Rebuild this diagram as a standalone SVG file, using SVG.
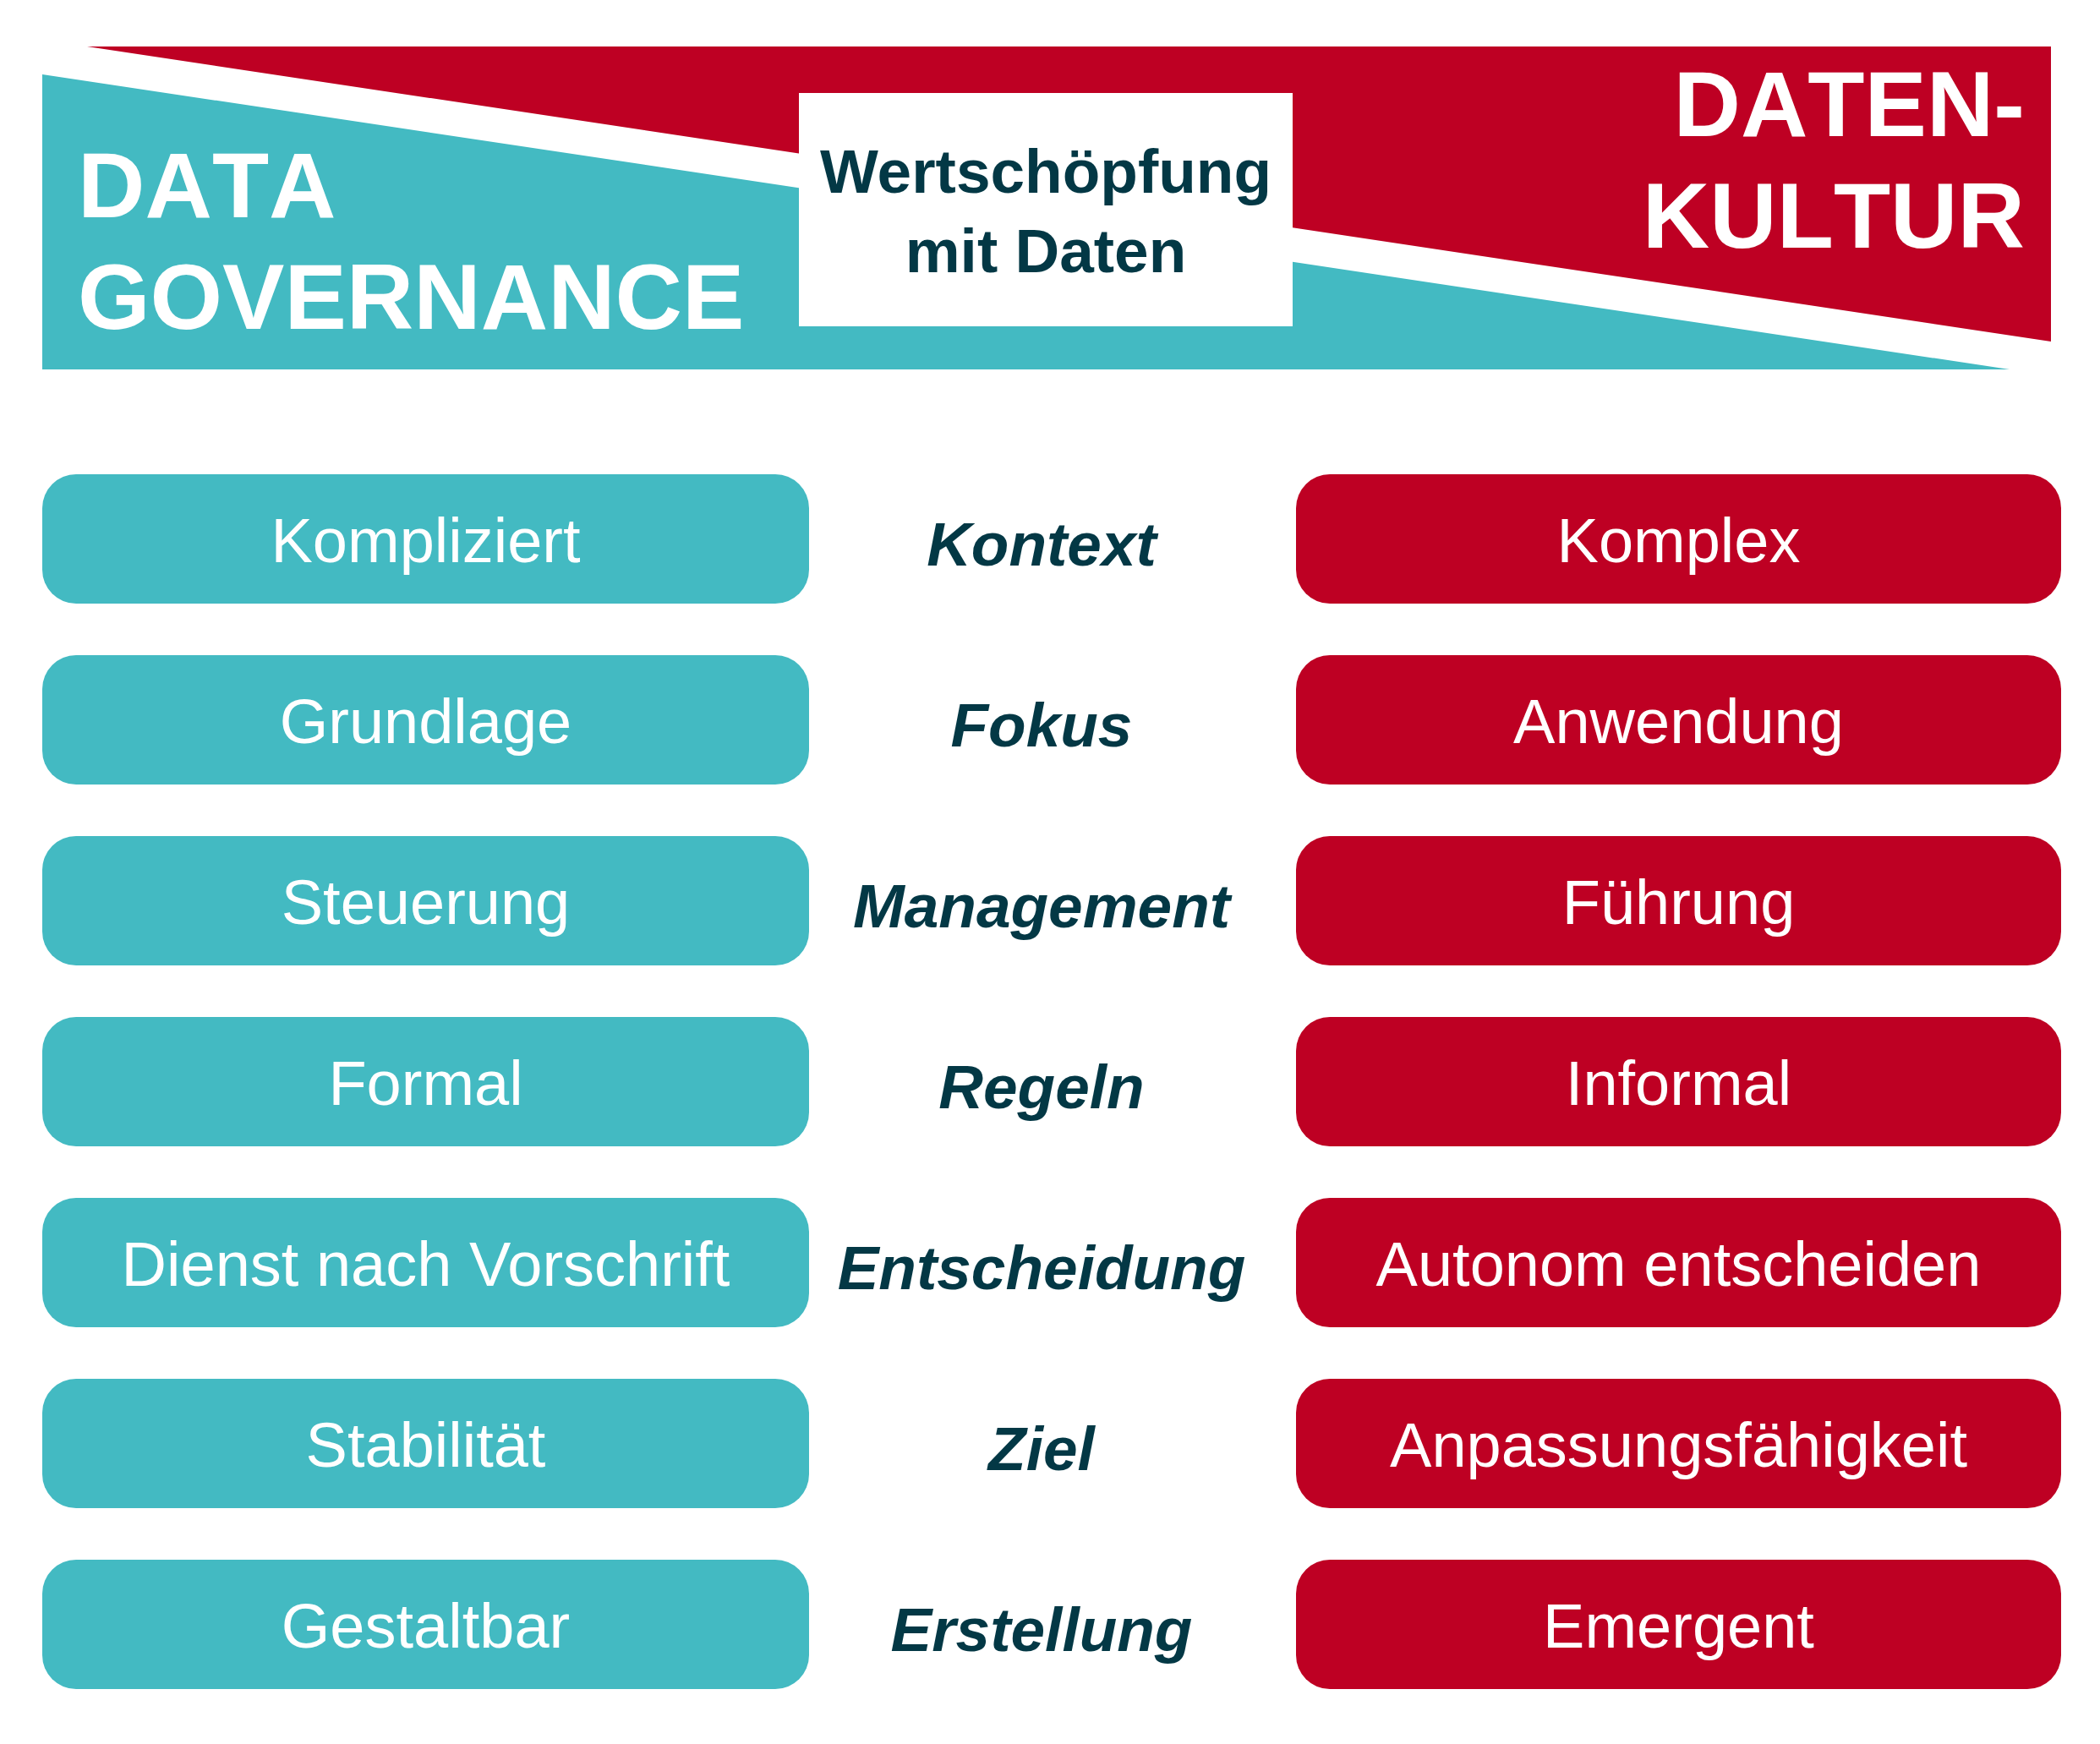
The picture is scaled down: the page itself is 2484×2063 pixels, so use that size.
<svg xmlns="http://www.w3.org/2000/svg" width="2484" height="2063" viewBox="0 0 2484 2063">
<style>
.teal{fill:#43BAC2}
.red{fill:#BE0023}
.bt{font-family:"Liberation Sans",Arial,sans-serif;font-size:74px;fill:#FFFFFF;text-anchor:middle}
.lab{font-family:"Liberation Sans",Arial,sans-serif;font-size:73px;font-weight:bold;font-style:italic;fill:#033845;text-anchor:middle}
.big{font-family:"Liberation Sans",Arial,sans-serif;font-size:110px;font-weight:bold;fill:#FFFFFF;font-kerning:none}
.mid{font-family:"Liberation Sans",Arial,sans-serif;font-size:73px;font-weight:bold;fill:#033845;text-anchor:middle}
</style>
<rect width="2484" height="2063" fill="#FFFFFF"/>
<g id="header">
<polygon class="red" points="103,55 2426,55 2426,404"/>
<polygon class="teal" points="50,88 2377,437 50,437"/>
<rect x="945" y="110" width="584" height="276" fill="#FFFFFF"/>
<text class="big" x="92" y="257">DATA</text>
<text class="big" x="92" y="389">GOVERNANCE</text>
<text class="big" x="2395" y="161" text-anchor="end">DATEN-</text>
<text class="big" x="2395" y="293" text-anchor="end">KULTUR</text>
<text class="mid" x="1237" y="228">Wertschöpfung</text>
<text class="mid" x="1237" y="322">mit Daten</text>
</g>
<g id="connectors"></g>
<g id="row1">
<rect class="teal" x="50" y="561" width="907" height="153" rx="40"/>
<text class="bt" x="503.5" y="665">Kompliziert</text>
<text class="lab" x="1232" y="669">Kontext</text>
<rect class="red" x="1533" y="561" width="905" height="153" rx="40"/>
<text class="bt" x="1985.5" y="665">Komplex</text>
</g>
<g id="row2">
<rect class="teal" x="50" y="775" width="907" height="153" rx="40"/>
<text class="bt" x="503.5" y="879">Grundlage</text>
<text class="lab" x="1232" y="883">Fokus</text>
<rect class="red" x="1533" y="775" width="905" height="153" rx="40"/>
<text class="bt" x="1985.5" y="879">Anwendung</text>
</g>
<g id="row3">
<rect class="teal" x="50" y="989" width="907" height="153" rx="40"/>
<text class="bt" x="503.5" y="1093">Steuerung</text>
<text class="lab" x="1232" y="1097">Management</text>
<rect class="red" x="1533" y="989" width="905" height="153" rx="40"/>
<text class="bt" x="1985.5" y="1093">Führung</text>
</g>
<g id="row4">
<rect class="teal" x="50" y="1203" width="907" height="153" rx="40"/>
<text class="bt" x="503.5" y="1307">Formal</text>
<text class="lab" x="1232" y="1311">Regeln</text>
<rect class="red" x="1533" y="1203" width="905" height="153" rx="40"/>
<text class="bt" x="1985.5" y="1307">Informal</text>
</g>
<g id="row5">
<rect class="teal" x="50" y="1417" width="907" height="153" rx="40"/>
<text class="bt" x="503.5" y="1521">Dienst nach Vorschrift</text>
<text class="lab" x="1232" y="1525">Entscheidung</text>
<rect class="red" x="1533" y="1417" width="905" height="153" rx="40"/>
<text class="bt" x="1985.5" y="1521">Autonom entscheiden</text>
</g>
<g id="row6">
<rect class="teal" x="50" y="1631" width="907" height="153" rx="40"/>
<text class="bt" x="503.5" y="1735">Stabilität</text>
<text class="lab" x="1232" y="1739">Ziel</text>
<rect class="red" x="1533" y="1631" width="905" height="153" rx="40"/>
<text class="bt" x="1985.5" y="1735">Anpassungsfähigkeit</text>
</g>
<g id="row7">
<rect class="teal" x="50" y="1845" width="907" height="153" rx="40"/>
<text class="bt" x="503.5" y="1949">Gestaltbar</text>
<text class="lab" x="1232" y="1953">Erstellung</text>
<rect class="red" x="1533" y="1845" width="905" height="153" rx="40"/>
<text class="bt" x="1985.5" y="1949">Emergent</text>
</g>
</svg>
